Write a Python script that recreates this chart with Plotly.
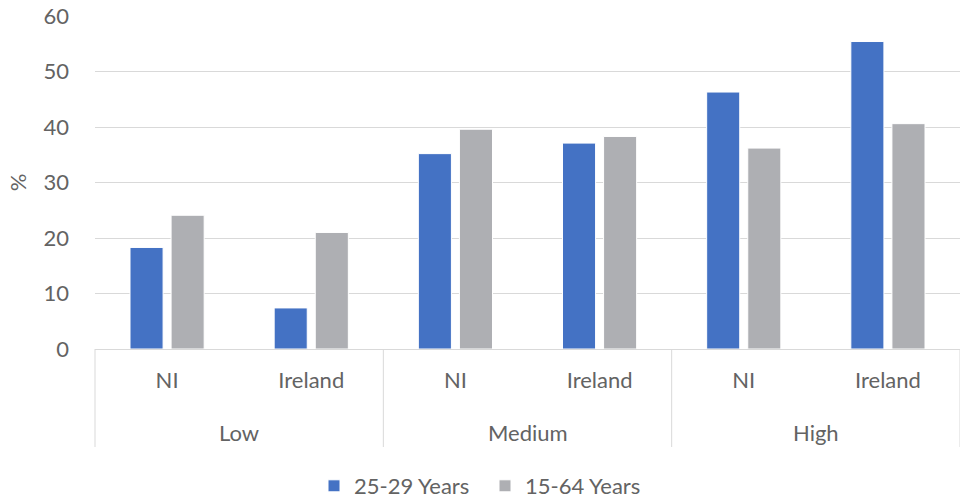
import plotly.graph_objects as go

# Qualification level groups and regions
group_names = ["Low", "Medium", "High"]
levels = ["Low", "Low", "Medium", "Medium", "High", "High"]
regions = ["NI", "Ireland", "NI", "Ireland", "NI", "Ireland"]

# Share of population (%) by age band
age_25_29 = [18.3, 7.4, 35.2, 37.1, 46.3, 55.4]
age_15_64 = [24.1, 21.0, 39.6, 38.3, 36.2, 40.6]

series_names = ["25-29 Years", "15-64 Years"]
colors = ["#4472C4", "#AEAFB3"]

text_color = "#636363"
grid_color = "#D9D9D9"
font_family = "Lato, 'Open Sans', sans-serif"

# unique category keys: one slot per level/region pair
cat_keys = [f"{l}|{r}" for l, r in zip(levels, regions)]

fig = go.Figure()
for name, vals, col in zip(series_names, [age_25_29, age_15_64], colors):
    fig.add_trace(go.Bar(
        x=cat_keys,
        y=vals,
        name=name,
        marker=dict(color=col, line=dict(color="white", width=1)),
    ))

# group labels and dividers below the region labels
n_cat = len(cat_keys)
label_y = -(432 - 349) / 333
divider_y = -(447 - 349) / 333
boundaries = [0]
for i in range(1, n_cat):
    if levels[i] != levels[i - 1]:
        boundaries.append(i)
boundaries.append(n_cat)

for g_start, g_end in zip(boundaries[:-1], boundaries[1:]):
    fig.add_annotation(
        x=(g_start + g_end) / 2 / n_cat, y=label_y,
        xref="paper", yref="paper",
        text=levels[g_start], showarrow=False,
        xanchor="center", yanchor="middle",
        font=dict(size=22, color=text_color, family=font_family),
    )
for b in boundaries:
    fig.add_shape(
        type="line", xref="paper", yref="paper",
        x0=b / n_cat, x1=b / n_cat, y0=0, y1=divider_y,
        line=dict(color=grid_color, width=1),
    )

fig.update_layout(
    width=960,
    height=499,
    margin=dict(l=95, r=0, t=16, b=150),
    paper_bgcolor="white",
    plot_bgcolor="white",
    barmode="group",
    bargap=0.43,
    bargroupgap=0.195,
    font=dict(family=font_family, size=22, color=text_color),
    showlegend=True,
    legend=dict(
        orientation="h",
        xref="container",
        yref="container",
        x=314 / 960,
        xanchor="left",
        y=(499 - 486) / 499,
        yanchor="middle",
        font=dict(size=22, color=text_color),
        itemwidth=30,
        entrywidth=126,
        entrywidthmode="pixels",
        traceorder="normal",
    ),
    xaxis=dict(
        type="category",
        tickmode="array",
        tickvals=cat_keys,
        ticktext=regions,
        showline=True,
        linecolor=grid_color,
        linewidth=1,
        showgrid=False,
        ticks="",
        ticklabelstandoff=12,
        tickfont=dict(size=22, color=text_color),
        fixedrange=True,
    ),
    yaxis=dict(
        range=[0, 60],
        dtick=10,
        showgrid=True,
        gridcolor=grid_color,
        gridwidth=1,
        zeroline=False,
        showline=False,
        ticks="",
        ticklabelstandoff=25,
        tickfont=dict(size=22, color=text_color),
        title=dict(text="%", font=dict(size=22, color=text_color), standoff=10),
    ),
)

fig.write_html("out.html")
